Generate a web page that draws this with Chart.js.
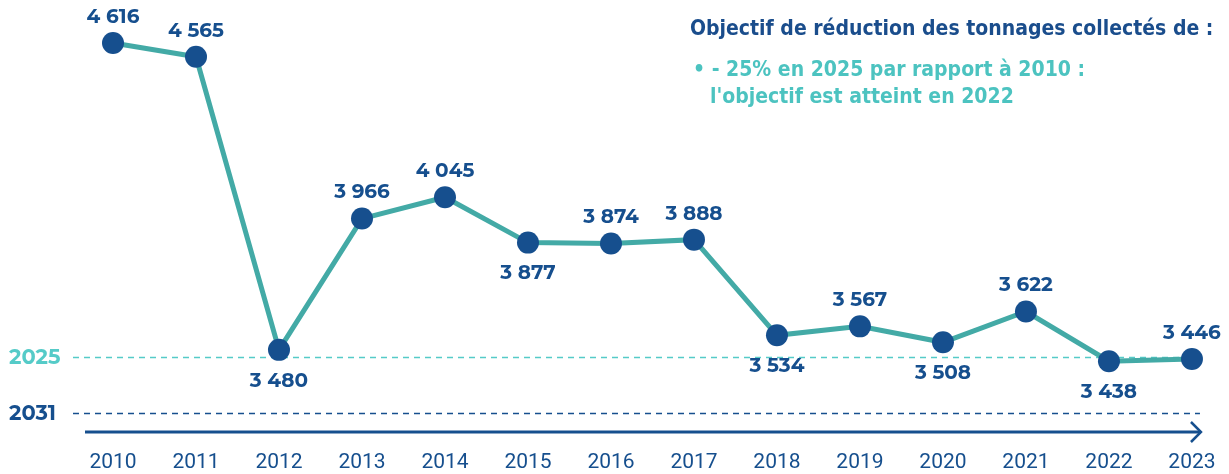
<!DOCTYPE html>
<html>
<head>
<meta charset="utf-8">
<script src="https://cdn.jsdelivr.net/npm/chart.js@4"></script>
<style>
  html, body { margin: 0; padding: 0; background: #fff; }
  #wrap { position: relative; width: 1229px; height: 474px; }
  #legend { position: absolute; left: 690px; top: 15px; font-family: "Liberation Sans Narrow", "DejaVu Sans Condensed", sans-serif; font-weight: bold; font-size: 21px; line-height: 27px; }
  #legend .title { color: #1a4d8c; margin-bottom: 14px; }
  #legend .item { color: #4cc3c0; padding-left: 20px; text-indent: -17px; }
</style>
</head>
<body>
<div id="wrap">
  <canvas id="chart" width="1229" height="474"></canvas>
  <div id="legend">
    <div class="title">Objectif de réduction des tonnages collectés de :</div>
    <div class="item">•&nbsp;- 25% en 2025 par rapport à 2010 :<br>l'objectif est atteint en 2022</div>
  </div>
</div>
<script>
// years and collected tonnages
const years = [2010, 2011, 2012, 2013, 2014, 2015, 2016, 2017, 2018, 2019, 2020, 2021, 2022, 2023];
const tonnages = [4616, 4565, 3480, 3966, 4045, 3877, 3874, 3888, 3534, 3567, 3508, 3622, 3438, 3446];
// where each value label goes: 1 = above the point, -1 = below
const labelSide = [1, 1, -1, 1, 1, -1, 1, 1, -1, 1, -1, 1, -1, 1];
// target lines
const targetNames = ['2025', '2031'];
const targetValues = [3452, 3247];

const NAVY = '#164f8e';
const TEAL = '#43aaa6';
const LIGHT_TEAL = '#55cbc8';
const fmt = v => String(v).replace(/\B(?=(\d{3})+(?!\d))/g, ' ');

const decorations = {
    id: 'decorations',
    beforeDatasetsDraw(chart) {
        const ctx = chart.ctx;
        const x = chart.scales.x, y = chart.scales.y;
        const lastX = x.getPixelForValue(years[years.length - 1]);
        const left = chart.chartArea.left, right = lastX + 8;
        const colors = [LIGHT_TEAL, NAVY];
        targetValues.forEach((v, i) => {
            const py = Math.round(y.getPixelForValue(v)) + 0.5;
            ctx.save();
            ctx.strokeStyle = colors[i];
            ctx.lineWidth = 1.3;
            ctx.setLineDash([6, 5]);
            ctx.beginPath();
            ctx.moveTo(left, py);
            ctx.lineTo(right, py);
            ctx.stroke();
            ctx.setLineDash([]);
            ctx.fillStyle = colors[i];
            ctx.font = 'bold 21px Montserrat, "Open Sans", sans-serif';
            ctx.textAlign = 'left';
            ctx.textBaseline = 'middle';
            ctx.fillText(targetNames[i], 9, py);
            ctx.restore();
        });
        // axis arrow
        const ay = chart.chartArea.bottom;
        const tip = lastX + 9;
        ctx.save();
        ctx.strokeStyle = NAVY;
        ctx.lineWidth = 3;
        ctx.beginPath();
        ctx.moveTo(85, ay);
        ctx.lineTo(tip, ay);
        ctx.stroke();
        ctx.lineWidth = 2.5;
        ctx.beginPath();
        ctx.moveTo(tip - 10, ay - 10);
        ctx.lineTo(tip, ay);
        ctx.lineTo(tip - 10, ay + 10);
        ctx.stroke();
        ctx.restore();
    },
    afterDatasetsDraw(chart) {
        const ctx = chart.ctx;
        const meta = chart.getDatasetMeta(0);
        ctx.save();
        ctx.fillStyle = NAVY;
        ctx.font = 'bold 20px Montserrat, "Open Sans", sans-serif';
        ctx.textAlign = 'center';
        ctx.textBaseline = 'middle';
        meta.data.forEach((pt, i) => {
            const dy = labelSide[i] > 0 ? -26 : 31;
            ctx.fillText(fmt(tonnages[i]), pt.x, pt.y + dy);
        });
        ctx.restore();
    }
};

new Chart(document.getElementById('chart'), {
    type: 'line',
    data: {
        datasets: [{
            data: years.map((yr, i) => ({ x: yr, y: tonnages[i] })),
            borderColor: TEAL,
            borderWidth: 5,
            pointRadius: 11,
            pointBackgroundColor: NAVY,
            pointBorderWidth: 0,
            tension: 0,
            clip: false
        }]
    },
    options: {
        responsive: false,
        animation: false,
        layout: { autoPadding: false, padding: { left: 73, right: 26, top: 0, bottom: 0 } },
        plugins: { legend: { display: false }, tooltip: { enabled: false } },
        scales: {
            x: {
                type: 'linear',
                min: 2009.518,
                max: 2023.133,
                grid: { display: false, drawTicks: false },
                border: { display: false },
                afterBuildTicks: axis => { axis.ticks = years.map(v => ({ value: v })); },
                afterFit: axis => {
                    axis.height = 42;
                    axis.paddingLeft = 0;
                    axis.paddingRight = 0;
                },
                ticks: {
                    color: NAVY,
                    padding: 18,
                    maxRotation: 0,
                    font: { family: 'Roboto', size: 21 },
                    callback: v => String(v)
                }
            },
            y: {
                display: false,
                min: 3176,
                max: 4775
            }
        }
    },
    plugins: [decorations]
});
</script>
</body>
</html>
